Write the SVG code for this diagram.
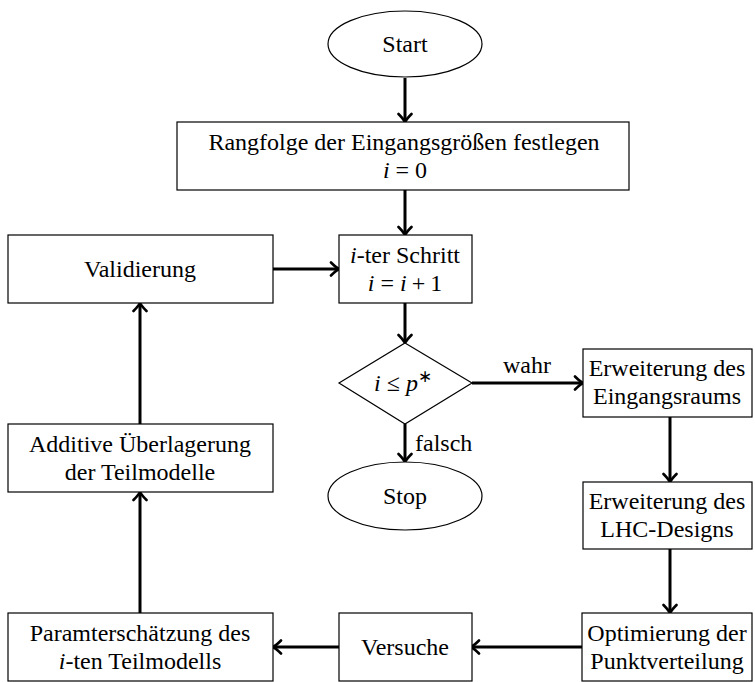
<svg xmlns="http://www.w3.org/2000/svg" width="755" height="682" viewBox="0 0 755 682">
  <style>
    .box { fill: #fff; stroke: #000; stroke-width: 1.2; }
    .t { font-family: 'Liberation Serif', 'Times New Roman', Times, serif; font-size: 24px; fill: #000; text-anchor: middle; }
    .l { text-anchor: start; }
    .m { font-style: italic; }
    .c { fill: none; stroke: #000; stroke-width: 3; }
  </style>
  <defs>
    <marker id="ah" viewBox="-10 -8 13 16" refX="-1.5" refY="0" markerWidth="13" markerHeight="16" markerUnits="userSpaceOnUse" orient="auto">
      <path d="M-8,-6.5 Q-3,-1.5 0,0 Q-3,1.5 -8,6.5" fill="none" stroke="#000" stroke-width="2.6" stroke-linecap="round" stroke-linejoin="round"/>
    </marker>
  </defs>

  <!-- connectors -->
  <g id="connectors" class="c" marker-end="url(#ah)">
    <path d="M405,78 V120.5"/>
    <path d="M405,190 V233.5"/>
    <path d="M405,303 V341.5"/>
    <path d="M405,424 V460.5"/>
    <path d="M472,383 H581.5"/>
    <path d="M670,417 V480.5"/>
    <path d="M670,549 V611.5"/>
    <path d="M582,647 H472.5"/>
    <path d="M339,647 H274.5"/>
    <path d="M140,613 V493.5"/>
    <path d="M140,424 V304.5"/>
    <path d="M273,269 H337.5"/>
  </g>

  <g font-family="'Liberation Serif', 'Times New Roman', Times, serif">
  <g id="start">
    <ellipse class="box" cx="405" cy="44" rx="77" ry="33"/>
    <text class="t" x="405" y="52">Start</text>
  </g>

  <g id="rangfolge">
    <rect class="box" x="177" y="122" width="452" height="68"/>
    <text class="t" x="404" y="149.5">Rangfolge der Eingangsgrößen festlegen</text>
    <text class="t" x="405" y="178"><tspan class="m">i</tspan><tspan dx="6">=</tspan><tspan dx="6">0</tspan></text>
  </g>

  <g id="schritt">
    <rect class="box" x="339" y="235" width="133" height="68"/>
    <text class="t" x="405" y="262.5"><tspan class="m">i</tspan>-ter Schritt</text>
    <text class="t" x="405" y="291"><tspan class="m">i</tspan><tspan dx="6">=</tspan><tspan class="m" dx="6">i</tspan><tspan dx="5">+</tspan><tspan dx="5">1</tspan></text>
  </g>

  <g id="validierung">
    <rect class="box" x="8" y="235" width="265" height="68"/>
    <text class="t" x="140" y="277">Validierung</text>
  </g>

  <g id="entscheidung">
    <polygon class="box" points="405,343 472,383 405,424 339,383"/>
    <text class="t" x="403" y="391"><tspan class="m">i</tspan><tspan dx="6">≤</tspan><tspan class="m" dx="6">p</tspan><tspan font-size="17" dy="-9">∗</tspan></text>
  </g>

  <g id="labels">
    <text class="t" x="527" y="373">wahr</text>
    <text class="t l" x="415" y="451">falsch</text>
  </g>

  <g id="stop">
    <ellipse class="box" cx="405" cy="496" rx="77" ry="34"/>
    <text class="t" x="405" y="504">Stop</text>
  </g>

  <g id="eingangsraum">
    <rect class="box" x="583" y="349" width="169" height="68"/>
    <text class="t" x="667" y="376">Erweiterung des</text>
    <text class="t" x="667" y="404">Eingangsraums</text>
  </g>

  <g id="lhc">
    <rect class="box" x="583" y="482" width="169" height="67"/>
    <text class="t" x="667" y="509">Erweiterung des</text>
    <text class="t" x="667" y="537">LHC-Designs</text>
  </g>

  <g id="optimierung">
    <rect class="box" x="582" y="613" width="170" height="68"/>
    <text class="t" x="667" y="640.5">Optimierung der</text>
    <text class="t" x="667" y="668.5">Punktverteilung</text>
  </g>

  <g id="versuche">
    <rect class="box" x="339" y="613" width="133" height="68"/>
    <text class="t" x="405" y="655">Versuche</text>
  </g>

  <g id="parameter">
    <rect class="box" x="8" y="613" width="265" height="68"/>
    <text class="t" x="140" y="640.5">Paramterschätzung des</text>
    <text class="t" x="140" y="668.5"><tspan class="m">i</tspan>-ten Teilmodells</text>
  </g>

  <g id="ueberlagerung">
    <rect class="box" x="8" y="424" width="265" height="68"/>
    <text class="t" x="140" y="451.5">Additive Überlagerung</text>
    <text class="t" x="140" y="479.5">der Teilmodelle</text>
  </g>
  </g>
</svg>
